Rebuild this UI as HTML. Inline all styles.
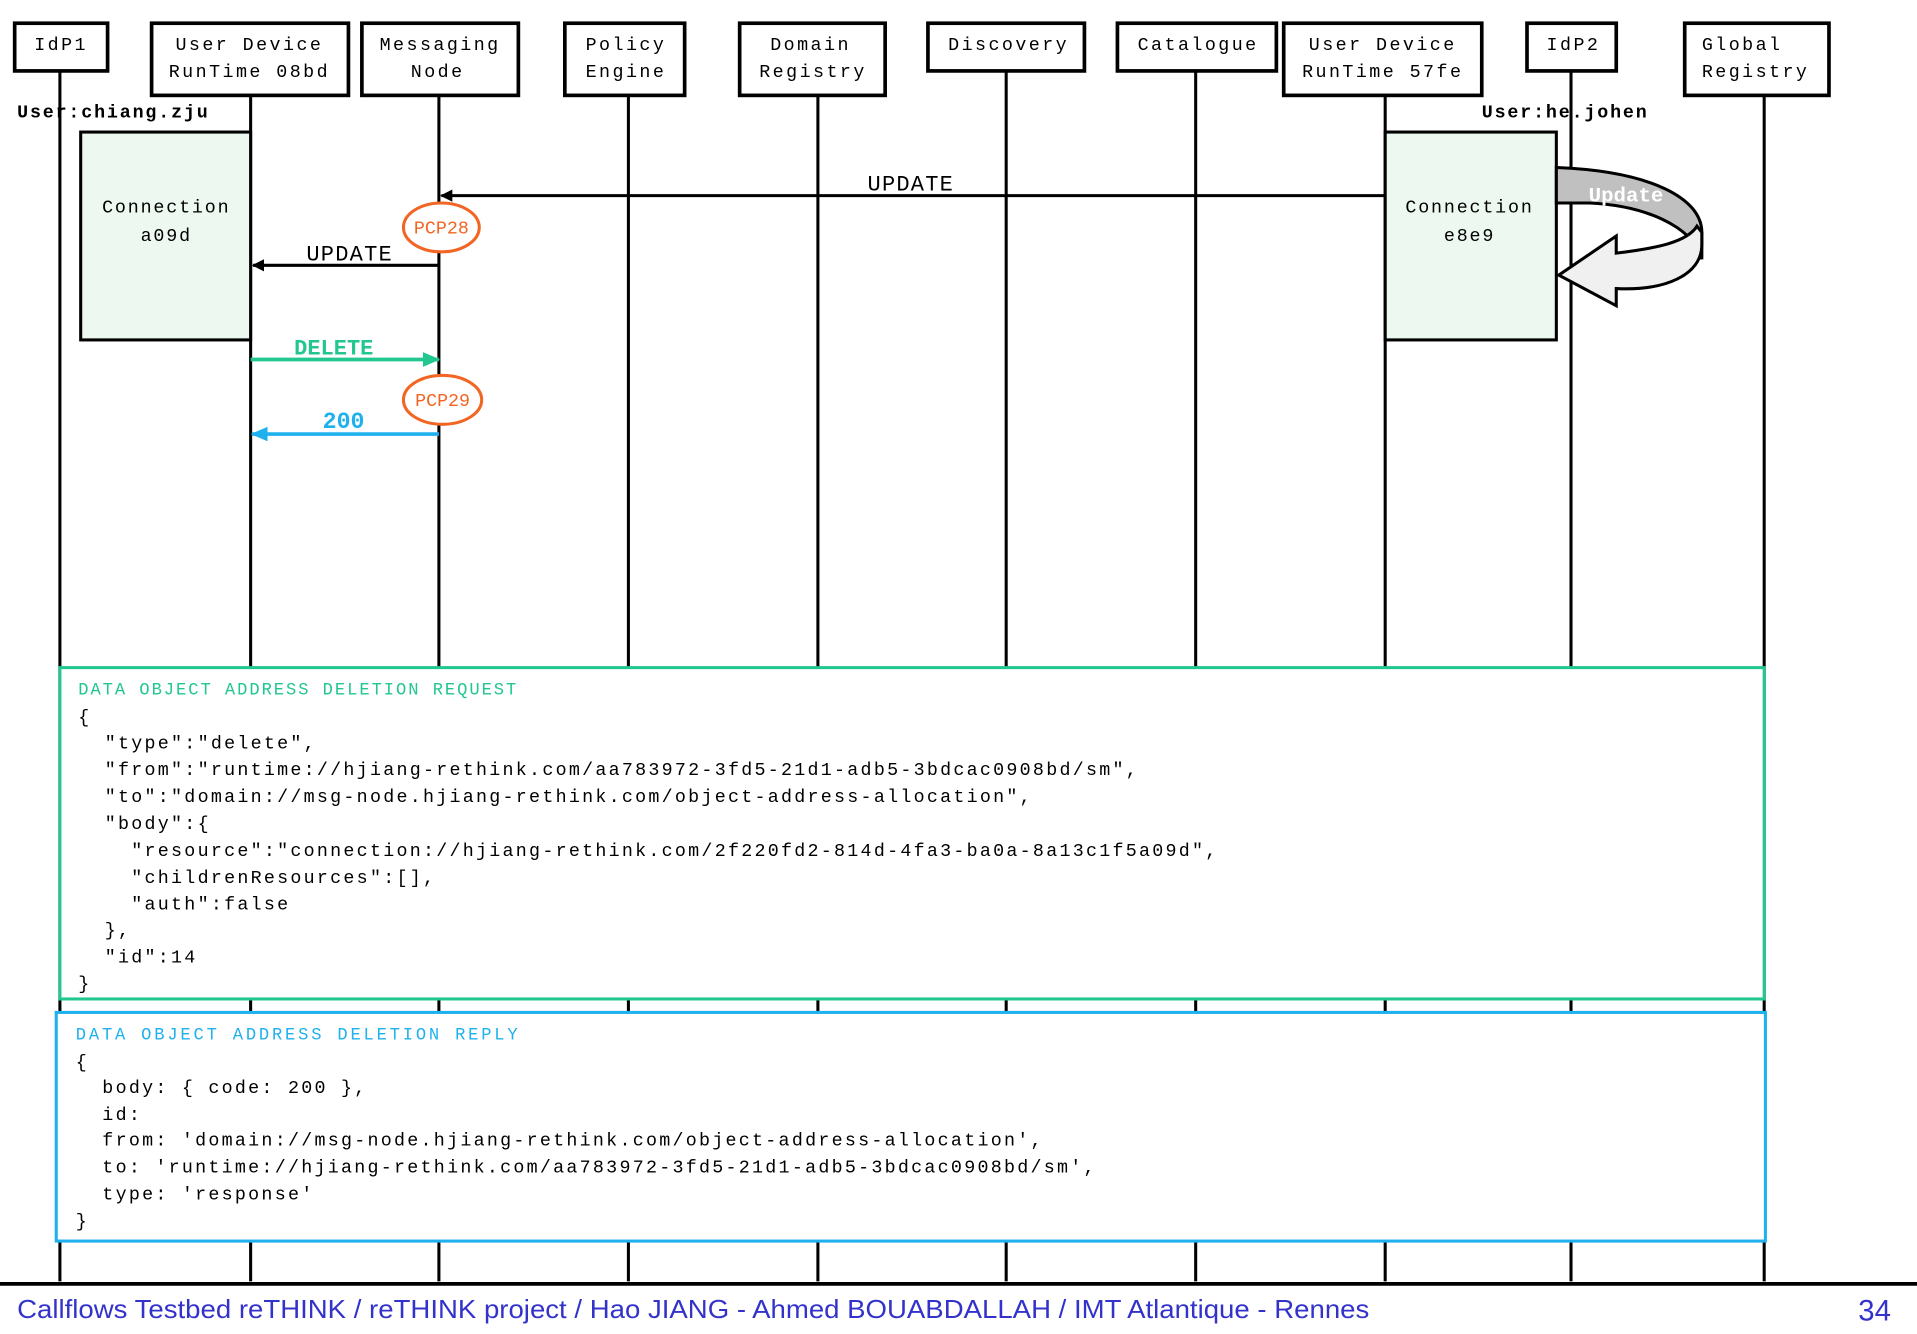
<!DOCTYPE html>
<html><head><meta charset="utf-8"><style>
html,body{margin:0;padding:0;background:#fff;}
svg{display:block;}
text{font-family:"Liberation Mono",monospace;white-space:pre;}
</style></head><body>
<svg width="1917" height="1334" viewBox="0 0 1568 1091" preserveAspectRatio="none" xmlns="http://www.w3.org/2000/svg">
<defs>
<marker id="ak" markerWidth="10" markerHeight="10" refX="9" refY="5" orient="auto" markerUnits="userSpaceOnUse"><path d="M0,0 L10,5 L0,10 Z" fill="#000"/></marker>
<marker id="ag" markerWidth="14" markerHeight="14" refX="13" refY="7" orient="auto" markerUnits="userSpaceOnUse"><path d="M0,1 L14,7 L0,13 Z" fill="#22c790"/></marker>
<marker id="ab" markerWidth="14" markerHeight="14" refX="13" refY="7" orient="auto" markerUnits="userSpaceOnUse"><path d="M0,1 L14,7 L0,13 Z" fill="#1fb0ee"/></marker>
</defs>
<g stroke="#000" stroke-width="2.5">
<line x1="49" y1="58" x2="49" y2="1048"/>
<line x1="205" y1="78" x2="205" y2="1048"/>
<line x1="359" y1="78" x2="359" y2="1048"/>
<line x1="514" y1="78" x2="514" y2="1048"/>
<line x1="669" y1="78" x2="669" y2="1048"/>
<line x1="823" y1="58" x2="823" y2="1048"/>
<line x1="978" y1="58" x2="978" y2="1048"/>
<line x1="1133" y1="78" x2="1133" y2="1048"/>
<line x1="1285" y1="58" x2="1285" y2="1048"/>
<line x1="1443" y1="78" x2="1443" y2="1048"/>
</g>
<g fill="#fff" stroke="#000" stroke-width="3">
<rect x="12" y="19" width="76" height="39"/>
<rect x="124" y="19" width="161" height="59"/>
<rect x="296" y="19" width="128" height="59"/>
<rect x="462" y="19" width="98" height="59"/>
<rect x="605" y="19" width="119" height="59"/>
<rect x="759" y="19" width="128" height="39"/>
<rect x="914" y="19" width="130" height="39"/>
<rect x="1050" y="19" width="162" height="59"/>
<rect x="1249" y="19" width="73" height="39"/>
<rect x="1378" y="19" width="118" height="59"/>
</g>
<g font-size="15" letter-spacing="2" fill="#000" text-anchor="middle">
<text x="50" y="41">IdP1</text>
<text x="204" y="41">User Device</text><text x="204" y="63">RunTime 08bd</text>
<text x="360" y="41">Messaging</text><text x="358" y="63">Node</text>
<text x="512" y="41">Policy</text><text x="512" y="63">Engine</text>
<text x="663" y="41">Domain</text><text x="665" y="63">Registry</text>
<text x="825" y="41">Discovery</text>
<text x="980" y="41">Catalogue</text>
<text x="1131" y="41">User Device</text><text x="1131" y="63">RunTime 57fe</text>
<text x="1287" y="41">IdP2</text>
</g>
<g font-size="15" letter-spacing="2" fill="#000">
<text x="1392" y="41">Global</text><text x="1392" y="63">Registry</text>
</g>
<g font-size="15" font-weight="bold" letter-spacing="1.5" fill="#000">
<text x="14" y="96">User:chiang.zju</text>
<text x="1212" y="96">User:he.johen</text>
</g>
<rect x="66" y="108" width="139" height="170" fill="#edf8f1" stroke="#000" stroke-width="2.5"/>
<rect x="1133" y="108" width="140" height="170" fill="#edf8f1" stroke="#000" stroke-width="2.5"/>
<g font-size="15" letter-spacing="1.5" fill="#000" text-anchor="middle">
<text x="136" y="174">Connection</text><text x="136" y="197">a09d</text>
<text x="1202" y="174">Connection</text><text x="1202" y="197">e8e9</text>
</g>
<line x1="1133" y1="160" x2="361" y2="160" stroke="#000" stroke-width="2.5" marker-end="url(#ak)"/>
<text x="745" y="156" font-size="18" text-anchor="middle" letter-spacing="1">UPDATE</text>
<line x1="359" y1="217" x2="207" y2="217" stroke="#000" stroke-width="2.5" marker-end="url(#ak)"/>
<text x="286" y="213" font-size="18" text-anchor="middle" letter-spacing="1">UPDATE</text>
<line x1="205" y1="294" x2="359" y2="294" stroke="#22c790" stroke-width="3" marker-end="url(#ag)"/>
<text x="273" y="290" font-size="18" font-weight="bold" fill="#22c790" text-anchor="middle">DELETE</text>
<line x1="359" y1="355" x2="206" y2="355" stroke="#1fb0ee" stroke-width="3" marker-end="url(#ab)"/>
<text x="281" y="350" font-size="19" font-weight="bold" fill="#1fb0ee" text-anchor="middle">200</text>
<ellipse cx="361" cy="186" rx="31" ry="20" fill="#fff" stroke="#f26522" stroke-width="2.5"/>
<text x="361" y="191" font-size="15" fill="#f26522" text-anchor="middle">PCP28</text>
<ellipse cx="362" cy="327" rx="32" ry="20" fill="#fff" stroke="#f26522" stroke-width="2.5"/>
<text x="362" y="332" font-size="15" fill="#f26522" text-anchor="middle">PCP29</text>
<path d="M1273,137 C1350,140 1392,162 1392,190 L1392,212 C1385,185 1345,168 1300,166 L1273,166 Z" fill="#c0c0c0" stroke="#000" stroke-width="2.5"/>
<path d="M1392,190 L1392,200 C1392,225 1362,238 1322,236 L1322,250 L1275,225 L1322,193 L1322,207 C1355,203 1380,198 1388,185 Z" fill="#f0f0f0" stroke="#000" stroke-width="2.5"/>
<text x="1330" y="165" font-size="17" font-weight="bold" fill="#fff" text-anchor="middle">Update</text>
<rect x="49" y="546" width="1394" height="271" fill="#fff" stroke="#22c790" stroke-width="2.5"/>
<rect x="46" y="828" width="1398" height="187" fill="#fff" stroke="#1fb0ee" stroke-width="2.5"/>
<g font-size="15" letter-spacing="1.85" fill="#000">
<text x="64" y="568" fill="#22c790" font-size="14" letter-spacing="1.6">DATA OBJECT ADDRESS DELETION REQUEST</text>
<text x="64" y="591">{</text>
<text x="64" y="612">  "type":"delete",</text>
<text x="64" y="634">  "from":"runtime://hjiang-rethink.com/aa783972-3fd5-21d1-adb5-3bdcac0908bd/sm",</text>
<text x="64" y="656">  "to":"domain://msg-node.hjiang-rethink.com/object-address-allocation",</text>
<text x="64" y="678">  "body":{</text>
<text x="64" y="700">    "resource":"connection://hjiang-rethink.com/2f220fd2-814d-4fa3-ba0a-8a13c1f5a09d",</text>
<text x="64" y="722">    "childrenResources":[],</text>
<text x="64" y="744">    "auth":false</text>
<text x="64" y="765">  },</text>
<text x="64" y="787">  "id":14</text>
<text x="64" y="809">}</text>
<text x="62" y="850" fill="#1fb0ee" font-size="14" letter-spacing="2.3">DATA OBJECT ADDRESS DELETION REPLY</text>
<text x="62" y="873">{</text>
<text x="62" y="894">  body: { code: 200 },</text>
<text x="62" y="916">  id:</text>
<text x="62" y="937">  from: 'domain://msg-node.hjiang-rethink.com/object-address-allocation',</text>
<text x="62" y="959">  to: 'runtime://hjiang-rethink.com/aa783972-3fd5-21d1-adb5-3bdcac0908bd/sm',</text>
<text x="62" y="981">  type: 'response'</text>
<text x="62" y="1003">}</text>
</g>
<line x1="0" y1="1050" x2="1568" y2="1050" stroke="#000" stroke-width="3"/>
<text x="14" y="1078" font-size="21" fill="#3333cc" textLength="1106" lengthAdjust="spacingAndGlyphs" style="font-family:'Liberation Sans',sans-serif">Callflows Testbed reTHINK / reTHINK project / Hao JIANG - Ahmed BOUABDALLAH / IMT Atlantique - Rennes</text>
<text x="1520" y="1080" font-size="24" fill="#3333cc" style="font-family:'Liberation Sans',sans-serif">34</text>
</svg>
</body></html>
